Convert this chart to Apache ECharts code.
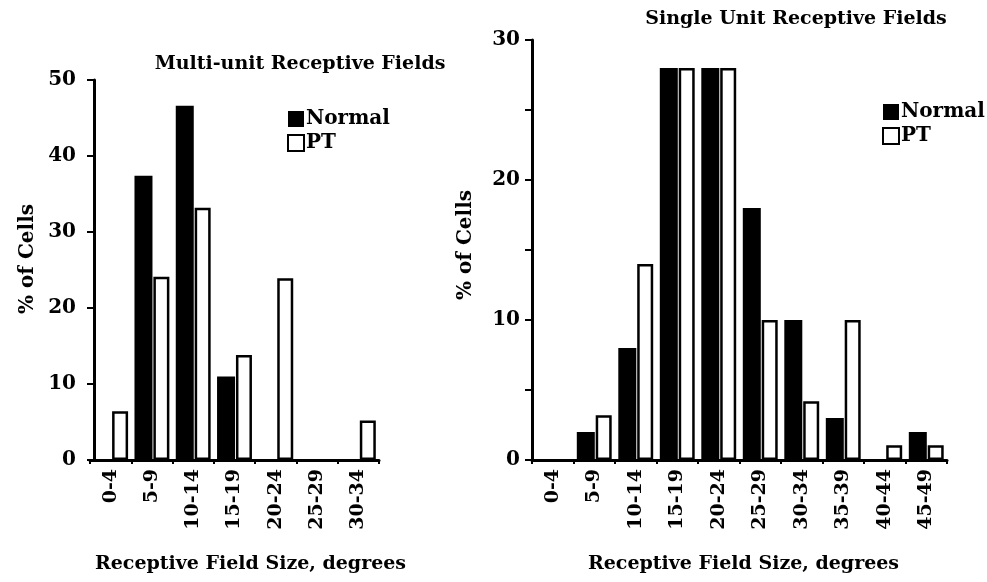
<!DOCTYPE html>
<html>
<head>
<meta charset="utf-8">
<script src="https://cdn.jsdelivr.net/npm/echarts@6/dist/echarts.min.js"></script>
<style>
html, body { margin: 0; padding: 0; background: #fff; }
#main { width: 987px; height: 582px; }
</style>
</head>
<body>
<div id="main"></div>
<script>
// 左图：多单元感受野
var multiCats = ['0-4', '5-9', '10-14', '15-19', '20-24', '25-29', '30-34'];
var multiNormal = [0, 37.4, 46.6, 11, 0, 0, 0];
var multiPT = [6.4, 24.1, 33.2, 13.8, 23.9, 0, 5.2];
var multiTicks = [0, 10, 20, 30, 40, 50];

// 右图：单单元感受野
var singleCats = ['0-4', '5-9', '10-14', '15-19', '20-24', '25-29', '30-34', '35-39', '40-44', '45-49'];
var singleNormal = [0, 2, 8, 28, 28, 18, 10, 3, 0, 2];
var singlePT = [0, 3.2, 14, 28, 28, 10, 4.2, 10, 1.05, 1.05];
var singleTicks = [0, 10, 20, 30];

var serif = '"DejaVu Serif", "Liberation Serif", serif';
var black = '#000';

// 0 的柱子不画（否则白柱会留下一条边线）
function noZero(arr) {
    return arr.map(function (v) { return v === 0 ? '-' : v; });
}

function xAxisOf(cats, gi, namePad) {
    return {
        type: 'category',
        gridIndex: gi,
        data: cats,
        name: 'Receptive Field Size, degrees',
        nameLocation: 'middle',
        nameGap: 95,
        nameTextStyle: { color: black, fontFamily: serif, fontWeight: 'bold', fontSize: 19, padding: namePad },
        axisLine: { lineStyle: { color: black, width: 3 } },
        axisTick: { show: true, length: 4, lineStyle: { color: black, width: 2 } },
        axisLabel: {
            rotate: 90, margin: 9, interval: 0,
            color: black, fontFamily: serif, fontWeight: 'bold', fontSize: 19
        },
        splitLine: { show: false }
    };
}

function yAxisOf(gi, max, interval, ticks, gap, margin, offset, namePad) {
    return {
        type: 'value',
        gridIndex: gi,
        min: 0, max: max, interval: interval,
        offset: offset,
        name: '% of Cells',
        nameLocation: 'middle',
        nameGap: gap,
        nameTextStyle: { color: black, fontFamily: serif, fontWeight: 'bold', fontSize: 20, padding: namePad },
        axisLine: { show: true, lineStyle: { color: black, width: 3 } },
        axisTick: { show: true, length: 7, lineStyle: { color: black, width: 2 } },
        axisLabel: {
            margin: margin, color: black, fontFamily: serif, fontWeight: 'bold', fontSize: 20,
            formatter: function (v) { return ticks.indexOf(v) >= 0 ? v : ''; }
        },
        splitLine: { show: false }
    };
}

var normalStyle = { color: black };
var ptStyle = { color: '#fff', borderColor: black, borderWidth: 2.5 };
var legendText = { color: black, fontFamily: serif, fontWeight: 'bold', fontSize: 20, padding: [0, 0, 0, -3] };

var myChart = echarts.init(document.getElementById('main'));
var option = {
    backgroundColor: '#fff',
    animation: false,
    title: [
        { text: 'Multi-unit Receptive Fields', left: 295, top: 50, textAlign: 'center',
          textStyle: { color: black, fontFamily: serif, fontWeight: 'bold', fontSize: 19 } },
        { text: 'Single Unit Receptive Fields', left: 791, top: 5, textAlign: 'center',
          textStyle: { color: black, fontFamily: serif, fontWeight: 'bold', fontSize: 19 } }
    ],
    legend: [
        { left: 282, top: 104, orient: 'vertical', itemGap: 4, itemWidth: 16, itemHeight: 16,
          icon: 'rect', data: ['Normal', 'PT'], textStyle: legendText },
        { left: 877, top: 97, orient: 'vertical', itemGap: 4, itemWidth: 16, itemHeight: 16,
          icon: 'rect', data: ['Normal ', 'PT '], textStyle: legendText }
    ],
    grid: [
        { left: 90, right: 608, top: 80, bottom: 122 },
        { left: 532, right: 40, top: 40, bottom: 122 }
    ],
    xAxis: [xAxisOf(multiCats, 0, [0, 0, 0, 32]), xAxisOf(singleCats, 1, [0, 0, 0, 8])],
    yAxis: [
        yAxisOf(0, 50, 10, multiTicks, 56, 18, -4, [0, 0, 0, 22]),
        yAxisOf(1, 30, 5, singleTicks, 56, 12, 0, [0, 0, 0, 10])
    ],
    series: [
        { name: 'Normal', type: 'bar', xAxisIndex: 0, yAxisIndex: 0, data: noZero(multiNormal),
          barWidth: 18, barGap: '5%', itemStyle: normalStyle },
        { name: 'PT', type: 'bar', xAxisIndex: 0, yAxisIndex: 0, data: noZero(multiPT),
          barWidth: 16, itemStyle: ptStyle },
        { name: 'Normal ', type: 'bar', xAxisIndex: 1, yAxisIndex: 1, data: noZero(singleNormal),
          barWidth: 18, barGap: '5%', itemStyle: normalStyle },
        { name: 'PT ', type: 'bar', xAxisIndex: 1, yAxisIndex: 1, data: noZero(singlePT),
          barWidth: 16, itemStyle: ptStyle }
    ]
};
myChart.setOption(option);
window.addEventListener('resize', function () {
    myChart.resize();
});
</script>
</body>
</html>
